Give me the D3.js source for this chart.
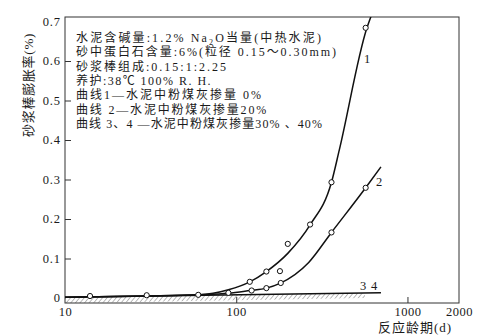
<!DOCTYPE html>
<html>
<head>
<meta charset="utf-8">
<script src="https://cdn.jsdelivr.net/npm/d3@7"></script>
<style>
  html, body { margin: 0; padding: 0; background: #fff; }
  svg { display: block; }
  text { fill: #1a1a1a; font-family: "Liberation Serif", "Noto Sans CJK SC", serif; }
</style>
</head>
<body>
<svg id="chart" width="497" height="335"></svg>
<script>
// Reaction age (days) on a log axis, mortar-bar expansion (%) on a linear axis.
const xTicks = [10, 100, 1000, 2000];
const yTicks = [0, 0.1, 0.2, 0.3, 0.4, 0.5, 0.6, 0.7];
const yTickLabels = ["0", "0.1", "0.2", "0.3", "0.4", "0.5", "0.6", "0.7"];

// Fitted curve 1 (0% fly ash)
const curve1Days   = [10, 30, 60, 90, 120, 150, 200, 270, 360, 400, 580, 615];
const curve1Values = [0.002, 0.005, 0.008, 0.021, 0.041, 0.067, 0.113, 0.185, 0.293, 0.375, 0.684, 0.715];

// Fitted curve 2 (20% fly ash)
const curve2Days   = [10, 30, 60, 90, 120, 150, 180, 265, 360, 570, 700];
const curve2Values = [0.002, 0.005, 0.008, 0.012, 0.019, 0.025, 0.037, 0.090, 0.166, 0.279, 0.332];

// Curves 3 and 4 (30% and 40% fly ash) coincide
const curve34Days   = [10, 700];
const curve34Values = [0.002, 0.013];

// Measured points
const points1Days   = [14, 30, 60, 120, 150, 180, 200, 270, 360, 570];
const points1Values = [0.005, 0.007, 0.008, 0.041, 0.067, 0.068, 0.137, 0.186, 0.293, 0.684];
const points2Days   = [90, 123, 150, 182, 360, 570];
const points2Values = [0.013, 0.019, 0.025, 0.038, 0.166, 0.279];

// Hatched strip under curves 3,4 ends here (days)
const hatchEndDay = 565;

// Test conditions; {sub} marks a subscript run
const noteLines = [
  ["水泥含碱量:1.2% Na", {sub: "2"}, "O当量(中热水泥)"],
  ["砂中蛋白石含量:6%(粒径 0.15～0.30mm)"],
  ["砂浆棒组成:0.15:1:2.25"],
  ["养护:38℃ 100% R. H."],
  ["曲线1—水泥中粉煤灰掺量 0%"],
  ["曲线 2—水泥中粉煤灰掺量20%"],
  ["曲线 3、4 —水泥中粉煤灰掺量30% 、40%"]
];
const noteWidths = [247, 262, 152, 136, 187, 192, 247];

const frame = {left: 65, right: 459, top: 17, bottom: 303};

const svg = d3.select("#chart");

const x = d3.scaleLog().domain([10, 2000]).range([frame.left, frame.right]);
const y = d3.scaleLinear().domain([0, 0.7]).range([298, 21.5]);

// Spread a text's glyphs so that it spans the given width
function fitWidth(sel, width) {
  const node = sel.node();
  const n = node.textContent.length;
  const natural = node.getComputedTextLength();
  sel.attr("letter-spacing", Math.max(0, (width - natural) / n));
}

const defs = svg.append("defs");
defs.append("clipPath").attr("id", "plotClip")
  .append("rect")
  .attr("x", frame.left).attr("y", frame.top)
  .attr("width", frame.right - frame.left).attr("height", frame.bottom - frame.top);

const hatch = defs.append("pattern")
  .attr("id", "hatch").attr("patternUnits", "userSpaceOnUse")
  .attr("width", 3.5).attr("height", 3.5)
  .attr("patternTransform", "rotate(40)");
hatch.append("line")
  .attr("x1", 0).attr("y1", 0).attr("x2", 0).attr("y2", 3.5)
  .attr("stroke", "#555").attr("stroke-width", 0.8);

// Hatched ground strip beneath curves 3,4
const lineY34 = d => {
  const t = (Math.log10(d) - Math.log10(curve34Days[0])) /
            (Math.log10(curve34Days[1]) - Math.log10(curve34Days[0]));
  return curve34Values[0] + t * (curve34Values[1] - curve34Values[0]);
};
const hx0 = x(10), hx1 = x(hatchEndDay);
const hy0 = y(lineY34(10)), hy1 = y(lineY34(hatchEndDay));
svg.append("path")
  .attr("clip-path", "url(#plotClip)")
  .attr("d", `M${hx0},${hy0}L${hx1},${hy1}L${hx1},${hy1 + 5}L${hx0},${hy0 + 6}Z`)
  .attr("fill", "url(#hatch)");

// Frame
svg.append("rect")
  .attr("x", frame.left).attr("y", frame.top)
  .attr("width", frame.right - frame.left).attr("height", frame.bottom - frame.top)
  .attr("fill", "none").attr("stroke", "#333").attr("stroke-width", 1);

// Y axis ticks (inward) and labels
const yAxis = d3.axisRight(y).tickValues(yTicks.slice(1, 7))
  .tickSize(6).tickFormat("");
svg.append("g").attr("transform", `translate(${frame.left},0)`).call(yAxis)
  .call(g => g.select(".domain").remove())
  .call(g => g.selectAll("line").attr("stroke", "#333"));

svg.append("g").selectAll("text").data(yTicks).join("text")
  .attr("x", 61).attr("y", d => y(d)).attr("dy", "0.35em")
  .attr("text-anchor", "end").attr("font-size", 12.5)
  .attr("letter-spacing", 0.9)
  .text((d, i) => yTickLabels[i]);

// X axis ticks (inward) and labels
const xAxis = d3.axisTop(x).tickValues([100, 1000]).tickSize(6).tickFormat("");
svg.append("g").attr("transform", `translate(0,${frame.bottom})`).call(xAxis)
  .call(g => g.select(".domain").remove())
  .call(g => g.selectAll("line").attr("stroke", "#333"));

svg.append("g").selectAll("text").data(xTicks).join("text")
  .attr("x", d => x(d) + 0.5).attr("y", 315.5)
  .attr("text-anchor", "middle").attr("font-size", 12.5)
  .attr("letter-spacing", 0.5)
  .text(d => String(d));

// Axis titles
const yTitle = svg.append("text")
  .attr("transform", "translate(33,85) rotate(-90)")
  .attr("text-anchor", "middle").attr("font-size", 13)
  .text("砂浆棒膨胀率(%)");
fitWidth(yTitle, 104);

const xTitle = svg.append("text")
  .attr("x", 378).attr("y", 331.5)
  .attr("font-size", 13)
  .text("反应龄期(d)");
fitWidth(xTitle, 74);

// Curves
const smooth = d3.line().x(d => x(d[0])).y(d => y(d[1])).curve(d3.curveMonotoneX);
const curves = [
  d3.zip(curve34Days, curve34Values),
  d3.zip(curve2Days, curve2Values),
  d3.zip(curve1Days, curve1Values)
];
svg.append("g").attr("clip-path", "url(#plotClip)")
  .selectAll("path").data(curves).join("path")
  .attr("d", smooth)
  .attr("fill", "none").attr("stroke", "#111").attr("stroke-width", 1.5);

// Measured points
const pts = d3.zip(points1Days, points1Values).concat(d3.zip(points2Days, points2Values));
svg.append("g").selectAll("circle").data(pts).join("circle")
  .attr("cx", d => x(d[0])).attr("cy", d => y(d[1])).attr("r", 2.6)
  .attr("fill", "#fff").attr("stroke", "#111").attr("stroke-width", 1);

// Curve numbers
const curveLabels = [
  {t: "1", x: 367, y: 63},
  {t: "2", x: 379, y: 186},
  {t: "3", x: 363, y: 290},
  {t: "4", x: 374, y: 290}
];
svg.append("g").selectAll("text").data(curveLabels).join("text")
  .attr("x", d => d.x).attr("y", d => d.y).attr("text-anchor", "middle")
  .attr("font-size", 12.5).text(d => d.t);

// Test conditions note
const note = svg.append("g");
noteLines.forEach((parts, i) => {
  const t = note.append("text")
    .attr("x", 76).attr("y", 42 + i * 14.3)
    .attr("font-size", 12);
  let shift = 0;
  parts.forEach(p => {
    if (typeof p === "string") {
      t.append("tspan").attr("dy", -shift).text(p);
      shift = 0;
    } else {
      t.append("tspan").attr("font-size", 8).attr("dy", 2.5).text(p.sub);
      shift = 2.5;
    }
  });
  fitWidth(t, noteWidths[i]);
});
</script>
</body>
</html>
